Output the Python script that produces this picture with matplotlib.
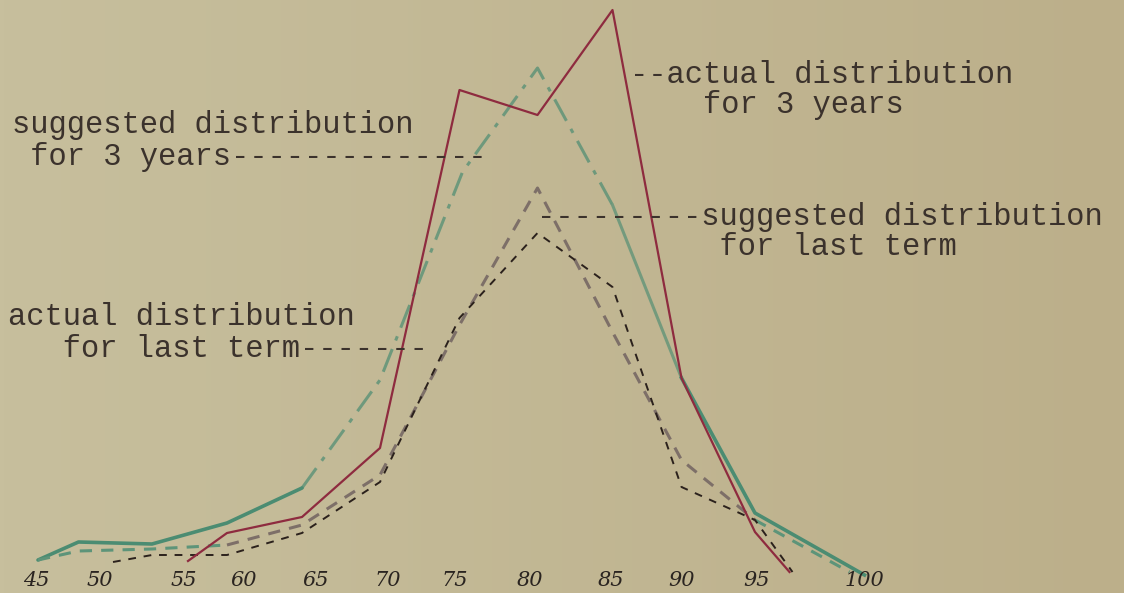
import numpy as np
import matplotlib
matplotlib.use("Agg")
import matplotlib.pyplot as plt

# ---- data (grade on x, relative frequency on y) ----
# actual distribution for 3 years (red solid)
red_x = [57.2, 59.8, 64.8, 70.0, 75.3, 80.5, 85.5, 90.1, 95.0, 97.3]
red_y = [0.95, 2.35, 3.15, 6.6, 24.5, 23.25, 28.5, 10.1, 2.4, 0.4]

# suggested distribution for 3 years (green)
green_x = [47.2, 49.9, 54.8, 59.8, 64.8, 70.0, 75.5, 80.5, 85.5, 90.1, 95.0, 102.3]
green_y = [1.0, 1.9, 1.8, 2.85, 4.6, 10.0, 20.4, 25.6, 18.75, 10.1, 3.35, 0.25]

# suggested distribution for last term (gray dashed)
sugg_x = [47.2, 49.9, 54.8, 59.8, 64.8, 70.0, 75.3, 80.5, 85.5, 90.1, 95.0, 101.3]
sugg_y = [1.0, 1.45, 1.55, 1.75, 2.75, 5.25, 12.75, 19.6, 12.4, 6.0, 3.0, 0.4]

# actual distribution for last term (black fine dashed)
act_x = [52.2, 54.8, 59.8, 64.8, 70.0, 75.3, 80.5, 85.5, 90.1, 95.0, 97.5]
act_y = [0.9, 1.25, 1.25, 2.35, 4.9, 13.1, 17.35, 14.65, 4.65, 3.0, 0.4]

tick_pos = [47.1, 51.3, 56.9, 60.9, 65.7, 70.5, 75.0, 80.0, 85.4, 90.1, 95.1, 102.3]
tick_labels = ["45", "50", "55", "60", "65", "70", "75", "80", "85", "90", "95", "100"]

# ---- figure ----
W, H = 1124, 593
fig = plt.figure(figsize=(W / 100, H / 100), dpi=100)
ax = fig.add_axes([0, 0, 1, 1])

# paper background (slight gradient)
left = np.array([199, 191, 157]) / 255
right = np.array([188, 175, 138]) / 255
t = np.linspace(0, 1, 256)
grad = (left[None, :] * (1 - t[:, None]) + right[None, :] * t[:, None])[None, :, :]
ax.imshow(grad, extent=[0, 1, 0, 1], transform=ax.transAxes, aspect="auto", zorder=0)

RED = "#8e2b3f"
GREEN = "#4b8c72"
GRAY = "#7d6f68"
GREENDASH = "#5d9479"
BLACK = "#2b211c"
INK = "#3b322c"

# green: suggested 3 years
ax.plot(green_x[:5], green_y[:5], color=GREEN, lw=2.6, solid_capstyle="round", zorder=2)
ax.plot(green_x[4:9], green_y[4:9], color=GREEN, lw=2.2, alpha=0.7,
        linestyle=(0, (8, 3, 1.5, 3)), zorder=2)
ax.plot(green_x[8:10], green_y[8:10], color=GREEN, lw=2.2, alpha=0.65, zorder=2)
ax.plot(green_x[9:], green_y[9:], color=GREEN, lw=2.6, zorder=2)

# gray dashed: suggested last term
ax.plot(sugg_x[:4], sugg_y[:4], color=GREENDASH, lw=2.2, linestyle=(0, (4, 3)), zorder=3)
ax.plot(sugg_x[3:11], sugg_y[3:11], color=GRAY, lw=2.2, linestyle=(0, (4, 3)), zorder=3)
ax.plot(sugg_x[10:], sugg_y[10:], color=GREENDASH, lw=2.2, linestyle=(0, (4, 3)), zorder=3)

# black dashed: actual last term
ax.plot(act_x, act_y, color=BLACK, lw=1.4, linestyle=(0, (4, 4)), zorder=4)

# red solid: actual 3 years
ax.plot(red_x, red_y, color=RED, lw=1.6, zorder=5)

# x labels (handwritten style)
for p, lab in zip(tick_pos, tick_labels):
    ax.text(p, -0.05, lab, ha="center", va="center", fontsize=15,
            family="DejaVu Serif", style="italic", color="#2a2420", zorder=6)

ax.set_xlim(44.667, 119.6)
ax.set_ylim(-0.65, 29)
ax.axis("off")

# annotations (typewriter)
def tt(px, py, s):
    ax.text(px / W, 1 - py / H, s, transform=ax.transAxes, ha="left", va="center",
            fontsize=22, family="Liberation Mono", color=INK, zorder=7)

tt(12, 125, "suggested distribution")
tt(12, 157, " for 3 years" + "-" * 14)

tt(630, 75, "--actual distribution")
tt(630, 105, "    for 3 years")

tt(537, 217, "-" * 9 + "suggested distribution")
tt(537, 247, "          for last term")

tt(8, 317, "actual distribution")
tt(8, 349, "   for last term" + "-" * 7)

fig.savefig("out.png", dpi=100)
